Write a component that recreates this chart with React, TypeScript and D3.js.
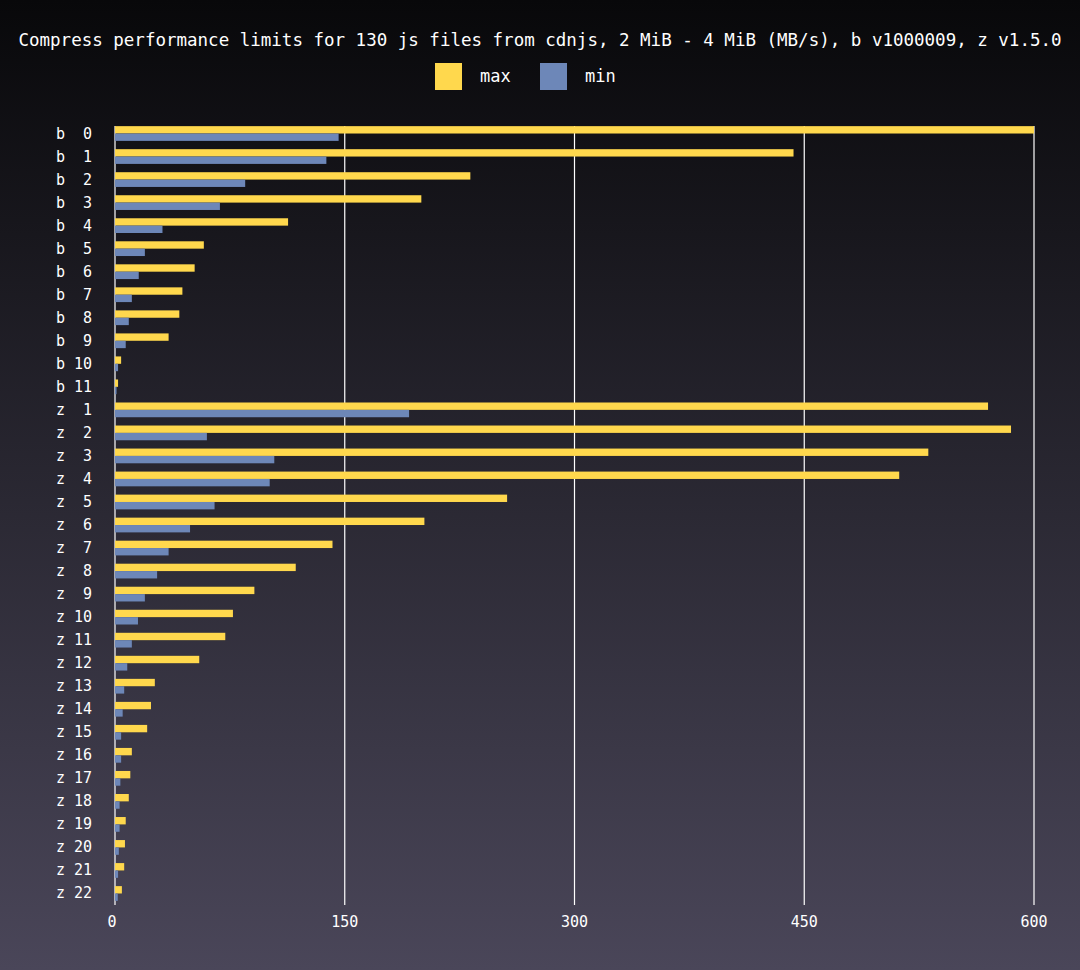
import React from "react";
import * as d3 from "d3";

const labels = [
  "b  0", "b  1", "b  2", "b  3", "b  4", "b  5", "b  6", "b  7", "b  8", "b  9", "b 10", "b 11",
  "z  1", "z  2", "z  3", "z  4", "z  5", "z  6", "z  7", "z  8", "z  9", "z 10", "z 11", "z 12",
  "z 13", "z 14", "z 15", "z 16", "z 17", "z 18", "z 19", "z 20", "z 21", "z 22",
];
const maxValues = [
  600, 443, 232, 200, 113, 58, 52, 44, 42, 35, 4, 2,
  570, 585, 531, 512, 256, 202, 142, 118, 91, 77, 72, 55,
  26, 23.5, 21, 11, 10, 9, 7, 6.5, 6, 4.5,
];
const minValues = [
  146, 138, 85, 68.5, 31, 19.5, 15.5, 11, 9, 7, 2, 1,
  192, 60, 104, 101, 65, 49, 35, 27.5, 19.5, 15, 11, 8,
  6, 5, 4, 4, 3.5, 3, 3, 2.5, 2, 1.8,
];
const ticks = [0, 150, 300, 450, 600];

const W = 1080;
const H = 970;
const YELLOW = "#ffd84d";
const BLUE = "#6d87b8";
const FONT = "'DejaVu Sans Mono', monospace";

export default function App() {
  const x = d3.scaleLinear().domain([0, 600]).range([115, 1034]);
  const y = d3.scaleBand().domain(labels).range([122, 905]).paddingInner(0.36).paddingOuter(0.18);
  const half = y.bandwidth() / 2;

  return (
    <svg width={W} height={H} style={{ position: "absolute", left: 0, top: 0 }}>
      <defs>
        <linearGradient id="bg" x1="0" y1="0" x2="0" y2="1">
          <stop offset="0" stopColor="#08080a" />
          <stop offset="1" stopColor="#4a4659" />
        </linearGradient>
      </defs>
      <rect width={W} height={H} fill="url(#bg)" />
      <text x={W / 2} y={46} textAnchor="middle" fill="#fff" fontFamily={FONT} fontSize={17.5}>
        Compress performance limits for 130 js files from cdnjs, 2 MiB - 4 MiB (MB/s), b v1000009, z v1.5.0
      </text>
      <rect x={435} y={63} width={27} height={27} fill={YELLOW} />
      <text x={480} y={82} fill="#fff" fontFamily={FONT} fontSize={17}>max</text>
      <rect x={540} y={63} width={27} height={27} fill={BLUE} />
      <text x={585} y={82} fill="#fff" fontFamily={FONT} fontSize={17}>min</text>

      {ticks.map((t) => (
        <g key={t}>
          <line x1={x(t)} x2={x(t)} y1={126} y2={905} stroke="#fff" strokeWidth={1.2} />
          <text x={x(t) - (t === 0 ? 3 : 0)} y={927} textAnchor="middle" fill="#fff" fontFamily={FONT} fontSize={15}>
            {t}
          </text>
        </g>
      ))}

      {labels.map((l, i) => (
        <g key={l}>
          <rect x={x(0)} y={y(l)!} width={x(maxValues[i]) - x(0)} height={half} fill={YELLOW} />
          <rect x={x(0)} y={y(l)! + half} width={x(minValues[i]) - x(0)} height={half} fill={BLUE} />
          <text x={92} y={y(l)! + half + 5} textAnchor="end" fill="#fff" fontFamily={FONT} fontSize={15} style={{ whiteSpace: "pre" }}>
            {l}
          </text>
        </g>
      ))}
    </svg>
  );
}
